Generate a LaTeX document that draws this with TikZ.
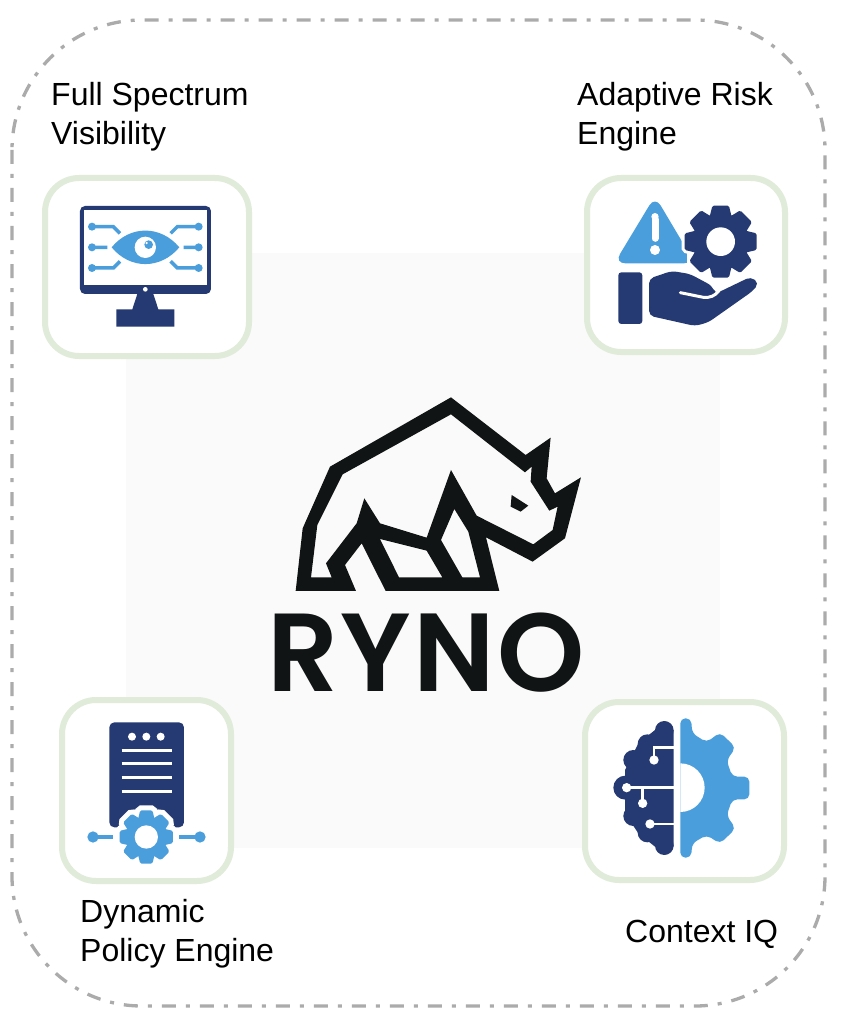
\documentclass[tikz,border=0pt]{standalone}
\usepackage{fontspec}
\setmainfont{Liberation Sans}
\newfontfamily\rynofont[LetterSpace=2]{Poppins SemiBold}
\usetikzlibrary{positioning}

\definecolor{navyicon}{HTML}{253A72}
\definecolor{blueicon}{HTML}{4A9EDB}
\definecolor{boxgreen}{HTML}{E0EBD9}
\definecolor{dashgray}{HTML}{ABABAB}
\definecolor{rhinoink}{HTML}{111414}
\definecolor{logopaper}{HTML}{FAFAFA}

\tikzset{
	iconbox/.style={draw=boxgreen, fill=white, line width=6pt, rounded corners=34pt, inner sep=0pt},
	caption/.style={inner sep=0pt, align=left, anchor=north west, font=\fontsize{32}{39}\selectfont},
	trace/.style={line width=3.5pt},
}

% gear: centre x, centre y, root radius, tip radius, look
\newcommand{\gearshape}[5]{
	\path[#5] (#1,#2) circle (#3);
	\foreach \a in {0,45,...,315}
		\path[#5, shift={(#1,#2)}, rotate=\a, rounded corners=1.5pt]
			({-0.31*#4},{0.85*#3}) -- ({-0.23*#4},#4) -- ({0.23*#4},#4) -- ({0.31*#4},{0.85*#3}) -- cycle;
}

\begin{document}
\begin{tikzpicture}[x=1pt,y=-1pt]
	\useasboundingbox (0,0) rectangle (841,1024);

	\fill[logopaper] (126,253) rectangle (720,848);
	\draw[dashgray, line width=3.3pt, rounded corners=130pt, dash pattern=on 14pt off 10pt on 4pt off 10pt] (12,20) rectangle (825,1006);

	\node (fullspectrum) [caption] at (51,82) {Full Spectrum\\Visibility};
	\node (adaptiverisk) [caption] at (577,82) {Adaptive Risk\\Engine};
	\node (dynamicpolicy) [caption] at (80,899) {Dynamic\\Policy Engine};
	\node (contextiq) [caption] at (625,920) {Context IQ};

	\node (visibilitybox) [iconbox, minimum width=204pt, minimum height=178pt] at (147,267) {};
	\node (riskbox) [iconbox, minimum width=198pt, minimum height=174pt] at (686,265) {};
	\node (policybox) [iconbox, minimum width=169pt, minimum height=181pt] at (146.5,790.5) {};
	\node (contextbox) [iconbox, minimum width=199pt, minimum height=178pt] at (684.5,791) {};

	% monitor with eye
	\begin{scope}[shift={(30,170)},scale=0.3333]
		\fill[navyicon, rounded corners=5pt] (150,108) rectangle (543,372);
		\fill[white] (162,120) rectangle (531,345);
		\fill[white] (346,358) circle (7);
		\fill[navyicon] (322,372) -- (370,372) -- (385,418) -- (433,418) -- (433,470) -- (259,470) -- (259,418) -- (307,418) -- cycle;
		\fill[blueicon] (245,232) .. controls (300,165) and (392,165) .. (448,232) .. controls (392,299) and (300,299) .. cycle;
		\fill[white] (346,232) circle (32);
		\fill[blueicon] (356,224) circle (13);
		\fill[white] (350,219) circle (4);
		\draw[blueicon, trace]
		(186,170) -- (250,170) -- (270,190)
		(186,232) -- (232,232)
		(186,294) -- (250,294) -- (270,274)
		(506,170) -- (442,170) -- (422,190)
		(506,232) -- (461,232)
		(506,294) -- (442,294) -- (422,274);
		\foreach \x in {186,506}
			\foreach \y in {170,232,294}
				\fill[blueicon] (\x,\y) circle (12);
	\end{scope}

	% warning sign, gear and hand
	\begin{scope}[shift={(575,170)},scale=0.3333]
		\fill[blueicon, rounded corners=11pt] (240,78) -- (118,280) -- (360,280) -- cycle;
		\fill[white] (240,140) circle (11);
		\draw[white, line width=7pt, line cap=round] (240,148) -- (240,205);
		\fill[white] (240,240) circle (15);
		\fill[white] (335,160) rectangle (400,300);
		\gearshape{437}{215}{85}{108}{fill=white, draw=white, line width=6pt}
		\gearshape{437}{215}{85}{108}{fill=navyicon}
		\fill[white] (437,215) circle (43);
		\fill[navyicon, rounded corners=3pt] (130,307) rectangle (202,462);
		\fill[navyicon, rounded corners=5pt] (222,326) -- (290,303) -- (345,312) -- (412,348) -- (420,372) -- (528,320) -- (552,340) -- (532,364) -- (400,457) -- (360,468) -- (222,437) -- cycle;
		\draw[white, line width=3pt, line cap=round] (316,368) -- (385,382) .. controls (405,384) and (420,378) .. (432,362);
	\end{scope}

	% server with gear
	\begin{scope}[shift={(50,690)},scale=0.3333]
		\fill[navyicon, rounded corners=5pt] (178,97) rectangle (402,412);
		\foreach \x in {246,289,332}
			\fill[white] (\x,140) circle (12);
		\foreach \y in {180,221,263,304}
			\draw[white, line width=3pt] (215,\y) -- (365,\y);
		\gearshape{289}{441}{62}{80}{fill=white, draw=white, line width=10pt}
		\gearshape{289}{441}{62}{80}{fill=blueicon}
		\fill[white] (289,441) circle (35);
		\draw[blueicon, line width=4.5pt] (129,441) -- (190,441) (388,441) -- (450,441);
		\fill[blueicon] (129,441) circle (17);
		\fill[blueicon] (450,441) circle (17);
	\end{scope}

	% brain and half gear
	\begin{scope}[shift={(575,690)},scale=0.3333]
		\fill[navyicon] (296,120) -- (296,470) -- (240,470) -- (190,430) -- (150,370) -- (150,240) -- (190,160) -- (240,120) -- cycle;
		\foreach \x/\y/\r in {268/121/28, 268/467/28, 217/162/29, 217/428/29, 175/210/30, 175/378/30, 151/293/36}
			\fill[navyicon] (\x,\y) circle (\r);
		\draw[white, line width=2.6pt]
		(296,172) -- (237,172) -- (237,210)
		(155,293) -- (296,293)
		(203,293) -- (203,340)
		(225,402) -- (296,402);
		\foreach \x/\y in {237/210, 155/293, 203/340, 225/402}
			\fill[white] (\x,\y) circle (14);
		\fill[blueicon, rounded corners=5pt] (316,85) -- (348,85) -- (352,130) -- (395,157) -- (435,127) -- (482,172) -- (455,212) -- (472,260) -- (523,260) -- (523,328) -- (472,328) -- (455,376) -- (482,416) -- (435,461) -- (395,435) -- (352,460) -- (348,503) -- (316,503) -- (316,400) -- (316,293) -- cycle;
		\fill[white] (316,293) ++(0,-73) arc[start angle=-90, end angle=90, radius=73] -- cycle;
	\end{scope}

	% rhino
	\begin{scope}[shift={(260,385)},scale=0.3333]
		\fill[rhinoink, even odd rule]
		(107,618) -- (128,430) -- (210,245) -- (573,37) -- (797,210) -- (872,158) -- (860,280) -- (885,325) -- (963,277) -- (915,460) -- (818,530) -- (678,457) -- (718,618) -- (377,618) -- (305,475) -- (255,540) -- (288,618) -- cycle
		(153,577) -- (172,420) -- (248,268) -- (573,88) -- (795,262) -- (815,245) -- (812,290) -- (868,377) -- (893,365) -- (878,435) -- (820,478) -- (650,392) -- (573,255) -- (500,458) -- (360,415) -- (313,340) -- (290,415) -- (198,535) -- (215,577) -- cycle
		(360,462) -- (500,497) -- (547,577) -- (417,577) -- cycle
		(583,372) -- (625,440) -- (660,577) -- (607,577) -- (543,465) -- cycle;
		\fill[rhinoink] (755,330) -- (805,362) -- (782,380) -- (752,365) -- cycle;
	\end{scope}

	\node (rynoword) [inner sep=0pt, anchor=base, text=rhinoink, font=\rynofont\fontsize{111}{111}\selectfont] at (426,691) {RYNO};
\end{tikzpicture}
\end{document}
